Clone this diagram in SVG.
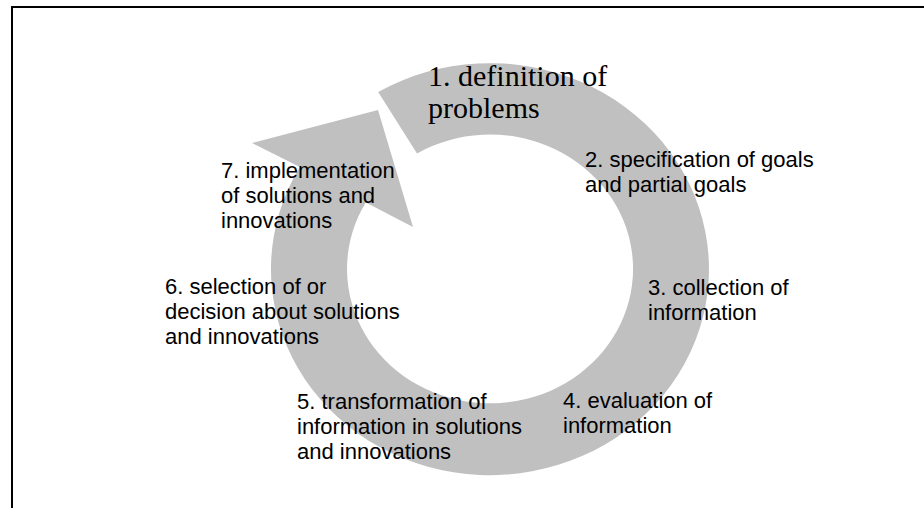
<svg xmlns="http://www.w3.org/2000/svg" width="924" height="508" viewBox="0 0 924 508">
<style>
.frame{fill:none;stroke:#000;stroke-width:2}
.ring{fill:#c0c0c0;stroke:none}
.lbl{font-family:"Liberation Sans",Arial,sans-serif;font-size:22px;fill:#000}
.ser{font-family:"Liberation Serif","Times New Roman",serif;font-size:30px;fill:#000}
</style>
<rect width="924" height="508" fill="#fff"/>
<path class="frame" d="M12,508 V7 H924"/>
<g id="connectors">
<path id="cycle-arrow" class="ring" d="M378.2,92 A219,206 0 1 1 299.8,167 L252,143 L378,110 L413,227 L365.8,202.4 A143,134.4 0 1 0 417,153.4 Z"/>
</g>
<g id="step1"><text class="ser" x="428" y="86">1. definition of</text><text class="ser" x="428" y="118">problems</text></g>
<g id="step2"><text class="lbl" x="585" y="167">2. specification of goals</text><text class="lbl" x="585" y="192">and partial goals</text></g>
<g id="step3"><text class="lbl" x="648" y="295">3. collection of</text><text class="lbl" x="648" y="320">information</text></g>
<g id="step4"><text class="lbl" x="563" y="408">4. evaluation of</text><text class="lbl" x="563" y="433">information</text></g>
<g id="step5"><text class="lbl" x="297" y="409">5. transformation of</text><text class="lbl" x="297" y="434">information in solutions</text><text class="lbl" x="297" y="459">and innovations</text></g>
<g id="step6"><text class="lbl" x="165" y="294">6. selection of or</text><text class="lbl" x="165" y="319">decision about solutions</text><text class="lbl" x="165" y="344">and innovations</text></g>
<g id="step7"><text class="lbl" x="221" y="178">7. implementation</text><text class="lbl" x="221" y="203">of solutions and</text><text class="lbl" x="221" y="228">innovations</text></g>
</svg>
